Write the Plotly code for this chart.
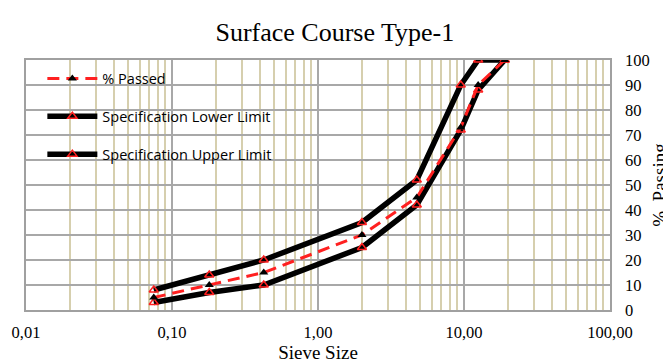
import plotly.graph_objects as go

sieve = [0.075, 0.18, 0.425, 2.0, 4.75, 9.5, 12.5, 19.0]
passed = [5, 10, 15, 30, 45, 73, 90, 100]
lower = [3, 7, 10, 25, 42, 72, 88, 100]
upper = [8, 14, 20, 35, 52, 90, 100, 100]
x_tickvals = [0.01, 0.1, 1, 10, 100]
x_ticktext = ["0,01", "0,10", "1,00", "10,00", "100,00"]
y_tickvals = list(range(0, 101, 10))

fig = go.Figure()
lim_marker = dict(symbol="triangle-up-open", color="#ff2020", size=8, line=dict(width=1.5, color="#ff2020"))
fig.add_trace(go.Scatter(x=sieve, y=upper, name="Specification Upper Limit", mode="lines+markers",
                         line=dict(color="black", width=5.5), marker=lim_marker, legendgroup="u", legendrank=3))
fig.add_trace(go.Scatter(x=sieve, y=lower, name="Specification Lower Limit", mode="lines+markers",
                         line=dict(color="black", width=5.5), marker=lim_marker, legendgroup="l", legendrank=2))
fig.add_trace(go.Scatter(x=sieve, y=passed, name="% Passed", mode="lines+markers",
                         line=dict(color="#ff2020", width=3, dash="12px,7px"),
                         marker=dict(symbol="triangle-up", color="black", size=8), legendgroup="p", legendrank=1))

fig.update_layout(
    width=663, height=355,
    margin=dict(l=18, r=61, t=52, b=53),
    paper_bgcolor="white", plot_bgcolor="white",
    title=dict(text="Surface Course Type-1", x=0.493, xanchor="center", y=0.932, yanchor="middle",
               font=dict(family="Liberation Serif", size=26, color="black")),
    showlegend=True,
    legend=dict(x=0.028, y=0.99, xanchor="left", yanchor="top", traceorder="grouped",
                tracegroupgap=16, bgcolor="rgba(0,0,0,0)", itemwidth=50,
                font=dict(family="Open Sans", size=14.5, color="black")),
    font=dict(family="Liberation Serif", size=16, color="black"),
)
fig.update_xaxes(type="log", range=[-2, 2], tickvals=x_tickvals, ticktext=x_ticktext,
                 showgrid=True, gridcolor="#a8a8a8", gridwidth=1.5,
                 minor=dict(showgrid=True, dtick="D1", gridcolor="#d6cfae", gridwidth=1.5),
                 showline=True, linecolor="#a0a0a0", linewidth=1.5, mirror=True,
                 ticks="", zeroline=False, ticklabelstandoff=6, automargin=False,
                 title=dict(text="Sieve Size", font=dict(family="Liberation Serif", size=19), standoff=6),
                 tickfont=dict(family="Liberation Serif", size=16.5))
fig.update_yaxes(range=[0, 100], tickvals=y_tickvals, side="right",
                 showgrid=True, gridcolor="#a8a8a8", gridwidth=1.5,
                 showline=True, linecolor="#a0a0a0", linewidth=1.5, mirror=True,
                 ticks="", zeroline=False, ticklabelstandoff=10, automargin=False,
                 title=dict(text="%  Passing", font=dict(family="Liberation Serif", size=19), standoff=4),
                 tickfont=dict(family="Liberation Serif", size=16.5))

fig.write_html("out.html")
